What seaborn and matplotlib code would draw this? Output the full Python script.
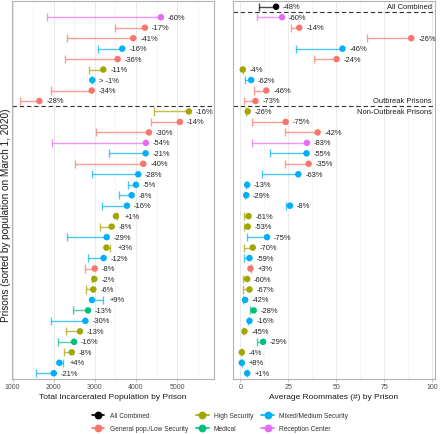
import numpy as np
import pandas as pd
import matplotlib
matplotlib.use("Agg")
import matplotlib.pyplot as plt
from matplotlib.lines import Line2D
import seaborn as sns

# ---------------- data ----------------
categories = (["All Combined"]
              + ["Reception Center", "General pop./Low Security", "General pop./Low Security",
                 "Mixed/Medium Security", "General pop./Low Security", "High Security",
                 "Mixed/Medium Security", "General pop./Low Security", "General pop./Low Security"]
              + ["High Security", "General pop./Low Security", "General pop./Low Security",
                 "Reception Center", "Mixed/Medium Security", "General pop./Low Security",
                 "Mixed/Medium Security", "Mixed/Medium Security", "Mixed/Medium Security",
                 "Mixed/Medium Security", "High Security", "High Security",
                 "Mixed/Medium Security", "High Security", "Mixed/Medium Security",
                 "General pop./Low Security", "High Security", "High Security",
                 "Mixed/Medium Security", "Medical", "Mixed/Medium Security",
                 "High Security", "Medical", "High Security",
                 "Mixed/Medium Security", "Mixed/Medium Security"])

# population on March 1, 2020 (dot) and % change (to the tick)
pop_start = [np.nan,
             4604, 4216, 3932, 3665, 3553, 3204, 2937, 2922, 1650,
             5284, 5066, 4313, 4240, 4233, 4175, 4053, 3998, 3893, 3779, 3512, 3407, 3286,
             3280, 3213, 2995, 2985, 2961, 2930, 2833, 2767, 2638, 2493, 2437, 2136, 2000]
pop_pct = [np.nan,
           -60, -17, -41, -16, -36, -11, -0.5, -34, -28,
           -16, -14, -30, -54, -21, -40, -28, -5, -8, -16, 1, -8, -29,
           3, -12, -8, -2, -6, 9, -13, -30, -13, -16, -8, 4, -21]
pop_labels = ["",
              "-60%", "-17%", "-41%", "-16%", "-36%", "-11%", "> -1%", "-34%", "-28%",
              "-16%", "-14%", "-30%", "-54%", "-21%", "-40%", "-28%", "-5%", "-8%", "-16%",
              "+1%", "-8%", "-29%", "+3%", "-12%", "-8%", "-2%", "-6%", "+9%", "-13%",
              "-30%", "-13%", "-16%", "-8%", "+4%", "-21%"]

room_start = [18.6,
              21.7, 30.7, 89.2, 53.3, 50.2, 1.2, 5.6, 13.5, 7.8,
              3.8, 23.6, 40.3, 34.7, 34.5, 35.6, 30.2, 3.5, 3.0, 25.9, 4.2, 3.8, 13.9,
              6.4, 4.7, 5.2, 3.5, 4.7, 2.4, 6.9, 4.7, 2.1, 11.8, 0.7, 0.7, 3.5]
room_pct = [-48,
            -60, -14, -26, -46, -24, -4, -62, -46, -73,
            -26, -75, -42, -83, -55, -35, -63, -13, -29, -8, -61, -53, -75,
            -70, -59, 3, -60, -67, -42, -28, -16, -45, -29, -4, 8, 1]
room_labels = ["-48%",
               "-60%", "-14%", "-26%", "-46%", "-24%", "-4%", "-62%", "-46%", "-73%",
               "-26%", "-75%", "-42%", "-83%", "-55%", "-35%", "-63%", "-13%", "-29%",
               "-8%", "-61%", "-53%", "-75%", "-70%", "-59%", "+3%", "-60%", "-67%",
               "-42%", "-28%", "-16%", "-45%", "-29%", "-4%", "+8%", "+1%"]

legend_order = ["All Combined", "General pop./Low Security", "High Security",
                "Medical", "Mixed/Medium Security", "Reception Center"]
palette = {"All Combined": "#000000",
           "General pop./Low Security": "#F8766D",
           "High Security": "#A3A500",
           "Medical": "#00BF7D",
           "Mixed/Medium Security": "#00B0F6",
           "Reception Center": "#E76BF3"}

df = pd.DataFrame({"row": np.arange(len(categories)), "cat": categories,
                   "pop_start": pop_start, "pop_pct": pop_pct,
                   "room_start": room_start, "room_pct": room_pct})
df["pop_end"] = df["pop_start"] * (1 + df["pop_pct"] / 100)
df["room_end"] = df["room_start"] * (1 + df["room_pct"] / 100)

# ---------------- style ----------------
sns.set_theme(style="white")
plt.rcParams["font.family"] = ["Liberation Sans", "DejaVu Sans"]

W, H = 440, 435
fig = plt.figure(figsize=(W / 100, H / 100), dpi=100)


def box(x0, x1, y0, y1):
    return [x0 / W, 1 - y1 / H, (x1 - x0) / W, (y1 - y0) / H]


ax1 = fig.add_axes(box(12, 214, 2, 380))
ax2 = fig.add_axes(box(233, 435, 2, 380))

LW = 1.0
LINE_ALPHA = 0.7


def draw_panel(ax, scol, ecol, labels, xlim, ticks, minors, xlabel, dashes_at):
    sub = df.dropna(subset=[scol])
    cols = [palette[c] for c in sub["cat"]]
    ax.hlines(sub["row"], sub[scol], sub[ecol], colors=cols, lw=LW,
              alpha=LINE_ALPHA, zorder=2)
    sns.scatterplot(data=sub, x=ecol, y="row", hue="cat", palette=palette,
                    marker="|", s=34, linewidth=LW, alpha=LINE_ALPHA,
                    legend=False, ax=ax, zorder=3)
    sns.scatterplot(data=sub, x=scol, y="row", hue="cat", palette=palette,
                    marker="o", s=22, edgecolor="none", linewidth=0,
                    legend=False, ax=ax, zorder=4)
    for _, r in sub.iterrows():
        xm = max(r[scol], r[ecol])
        ax.annotate(labels[int(r["row"])], (xm, r["row"]), xytext=(5, 0),
                    textcoords="offset points", ha="left", va="center",
                    fontsize=5.4, color="#222222", zorder=5)
    for yd in dashes_at:
        ax.axhline(yd, color="#333333", lw=0.8, ls=(0, (4, 2.5)), zorder=1)
    ax.set_xlim(*xlim)
    ax.set_ylim(35.55, -0.55)
    ax.set_yticks([])
    ax.set_xticks(ticks)
    ax.set_xticks(minors, minor=True)
    ax.grid(axis="x", which="major", color="#E6E6E6", lw=0.6, zorder=0)
    ax.grid(axis="x", which="minor", color="#F0F0F0", lw=0.4, zorder=0)
    ax.grid(axis="y", visible=False)
    ax.set_axisbelow(True)
    ax.tick_params(axis="x", which="major", length=2, width=0.5, color="#B3B3B3",
                   labelsize=5.0, labelcolor="#4D4D4D", pad=1.2, bottom=True)
    ax.tick_params(axis="x", which="minor", length=0)
    for s in ax.spines.values():
        s.set_color("#B3B3B3")
        s.set_linewidth(0.8)
    ax.set_xlabel(xlabel, fontsize=6.0, color="#1A1A1A", labelpad=2.0)
    ax.set_ylabel("")


draw_panel(ax1, "pop_start", "pop_end", pop_labels, (985, 5895),
           [1000, 2000, 3000, 4000, 5000], [1500, 2500, 3500, 4500, 5500],
           "Total Incarcerated Population by Prison", [9.5])
draw_panel(ax2, "room_start", "room_end", room_labels, (-3.9, 101.6),
           [0, 25, 50, 75, 100], [12.5, 37.5, 62.5, 87.5],
           "Average Roommates (#) by Prison", [0.5, 9.5])

tx = (431.5 - 233) / 202
for txt, yy in [("All Combined", 0), ("Outbreak Prisons", 9), ("Non-Outbreak Prisons", 10)]:
    ax2.text(tx, yy, txt, transform=ax2.get_yaxis_transform(), ha="right",
             va="center", fontsize=5.4, color="#1A1A1A")

fig.text(5.6 / W, 1 - 215 / H, "Prisons (sorted by population on March 1, 2020)",
         rotation=90, ha="center", va="center", fontsize=7.2, color="#1A1A1A")

handles = [Line2D([0], [0], color=palette[c], marker="o", markersize=4.6, lw=1.2)
           for c in legend_order]
fig.legend(handles, legend_order, loc="center", ncol=3,
           bbox_to_anchor=(0.5, 1 - 423.2 / H), frameon=False, fontsize=4.8,
           handlelength=1.9, handletextpad=0.8, columnspacing=1.2,
           labelspacing=0.9, borderpad=0, labelcolor="#333333")

fig.savefig("out.png", dpi=100)
